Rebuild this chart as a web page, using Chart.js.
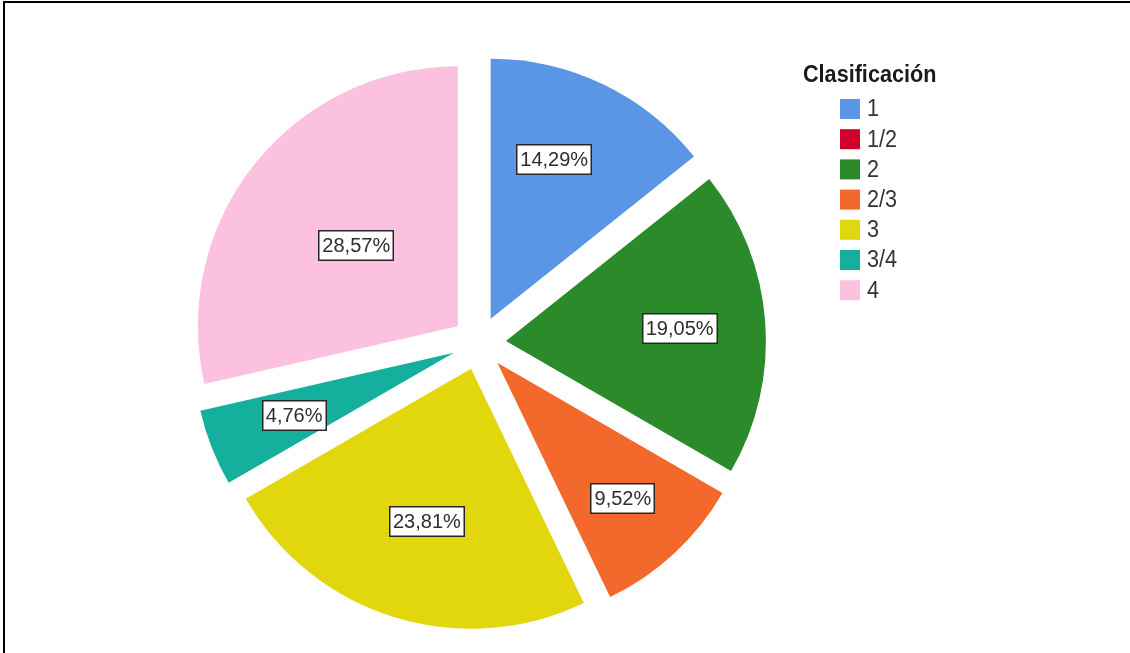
<!DOCTYPE html>
<html>
<head>
<meta charset="utf-8">
<script src="https://cdn.jsdelivr.net/npm/chart.js@4.4.0/dist/chart.umd.min.js"></script>
<style>
  html, body { margin: 0; padding: 0; background: #ffffff; }
  #wrap { width: 1130px; height: 653px; position: relative; }
</style>
</head>
<body>
<div id="wrap"><canvas id="c" width="1130" height="653"></canvas></div>
<script>
// Categories and their share of the total (percent)
const categories = ['1', '1/2', '2', '2/3', '3', '3/4', '4'];
const percentages = [14.29, 0, 19.05, 9.52, 23.81, 4.76, 28.57];
const sliceColors = ['#5a95e6', '#d2002b', '#2b8a2a', '#f2692b', '#e2d60d', '#14b09d', '#fdc1e0'];
const legendTitle = 'Clasificación';

const FONT = '"Liberation Sans", Arial, sans-serif';

// Text drawn with an optional horizontal squeeze
function drawText(ctx, text, x, y, sx) {
  ctx.save();
  ctx.translate(x, y);
  ctx.scale(sx, 1);
  ctx.fillText(text, 0, 0);
  ctx.restore();
}

// White page and the thin frame around it
const framePlugin = {
  id: 'frame',
  beforeDraw(chart) {
    const ctx = chart.ctx;
    ctx.save();
    ctx.fillStyle = '#ffffff';
    ctx.fillRect(0, 0, chart.width, chart.height);
    ctx.restore();
  },
  afterDraw(chart) {
    const ctx = chart.ctx;
    ctx.save();
    ctx.fillStyle = '#000000';
    ctx.fillRect(3, 1, chart.width - 3, 2);
    ctx.fillRect(3, 1, 2, chart.height - 1);
    ctx.restore();
  }
};

// Pull every slice away from the centre along its mid angle
const explodePlugin = {
  id: 'explode',
  afterDatasetUpdate(chart, args, opts) {
    const meta = chart.getDatasetMeta(args.index);
    meta.data.forEach(arc => {
      const mid = (arc.startAngle + arc.endAngle) / 2;
      arc.x += Math.cos(mid) * opts.distance;
      arc.y += Math.sin(mid) * opts.distance;
    });
  }
};

// Boxed percentage labels inside each slice
const sliceLabelPlugin = {
  id: 'sliceLabels',
  afterDatasetsDraw(chart, args, opts) {
    const ctx = chart.ctx;
    const meta = chart.getDatasetMeta(0);
    const values = chart.data.datasets[0].data;
    ctx.save();
    ctx.font = opts.font;
    ctx.textAlign = 'center';
    ctx.textBaseline = 'middle';
    meta.data.forEach((arc, i) => {
      const v = values[i];
      if (!v) return;
      const mid = (arc.startAngle + arc.endAngle) / 2 + (opts.angleShift[i] || 0) * Math.PI / 180;
      const r = arc.outerRadius * opts.radial[i];
      const x = arc.x + Math.cos(mid) * r;
      const y = arc.y + Math.sin(mid) * r;
      const text = v.toFixed(2).replace('.', ',') + '%';
      const w = Math.round(ctx.measureText(text).width * opts.squeeze + opts.padX * 2);
      const h = opts.boxHeight;
      const bx = Math.round(x - w / 2), by = Math.round(y - h / 2);
      ctx.fillStyle = '#ffffff';
      ctx.fillRect(bx, by, w, h);
      ctx.strokeStyle = '#262626';
      ctx.lineWidth = 1.5;
      ctx.strokeRect(bx + 0.75, by + 0.75, w - 1.5, h - 1.5);
      ctx.fillStyle = '#2e2e2e';
      drawText(ctx, text, x, y + 1, opts.squeeze);
    });
    ctx.restore();
  }
};

// Legend with title, coloured squares and category names
const legendPlugin = {
  id: 'sideLegend',
  afterDraw(chart, args, opts) {
    const ctx = chart.ctx;
    const colors = chart.data.datasets[0].backgroundColor;
    ctx.save();
    ctx.fillStyle = '#1a1a1a';
    ctx.font = 'bold ' + opts.titleSize + 'px ' + FONT;
    ctx.textAlign = 'left';
    ctx.textBaseline = 'alphabetic';
    drawText(ctx, opts.title, opts.titleX, opts.titleY, opts.squeeze);
    ctx.font = opts.itemSize + 'px ' + FONT;
    ctx.textBaseline = 'middle';
    chart.data.labels.forEach((label, i) => {
      const top = opts.itemY + i * opts.pitch;
      ctx.fillStyle = colors[i];
      ctx.fillRect(opts.boxX, top, opts.box, opts.box);
      ctx.fillStyle = '#333333';
      drawText(ctx, label, opts.boxX + opts.box + 7, top + opts.box / 2 + 1, opts.squeeze);
    });
    ctx.restore();
  }
};

new Chart(document.getElementById('c'), {
  type: 'pie',
  data: {
    labels: categories,
    datasets: [{
      data: percentages,
      backgroundColor: sliceColors,
      borderWidth: 0
    }]
  },
  options: {
    responsive: false,
    animation: false,
    events: [],
    radius: 260,
    layout: { padding: { left: 10, right: 182, top: 40, bottom: 7 } },
    plugins: {
      legend: { display: false },
      tooltip: { enabled: false },
      explode: { distance: 27 },
      sliceLabels: {
        font: '20px ' + FONT,
        squeeze: 1,
        padX: 4,
        boxHeight: 31,
        radial: [0.66, 0, 0.67, 0.71, 0.61, 0.66, 0.50],
        angleShift: [-4, 0, 0, 0, -1, 0, 0]
      },
      sideLegend: {
        title: legendTitle,
        titleSize: 23,
        titleX: 803,
        titleY: 82,
        squeeze: 0.94,
        itemSize: 23,
        itemY: 99,
        pitch: 30.2,
        boxX: 840,
        box: 20
      }
    }
  },
  plugins: [framePlugin, explodePlugin, sliceLabelPlugin, legendPlugin]
});
</script>
</body>
</html>
